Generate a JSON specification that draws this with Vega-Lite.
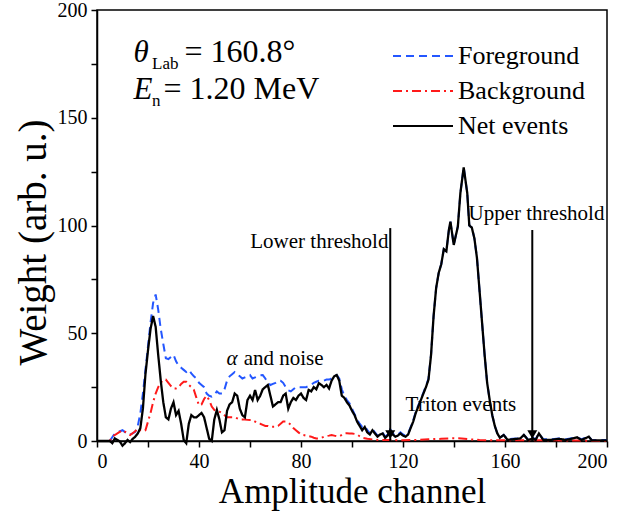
{
  "$schema": "https://vega.github.io/schema/vega-lite/v6.json",
  "width": 510,
  "height": 431,
  "autosize": {"type": "none"},
  "padding": {"left": 97, "top": 10, "right": 31, "bottom": 80},
  "background": "white",
  "config": {
    "font": "Liberation Serif",
    "view": {"stroke": "black", "strokeWidth": 1.5},
    "axis": {
      "domainColor": "black", "domainWidth": 1.5, "tickColor": "black", "tickWidth": 1.5,
      "tickSize": 6, "labelFont": "Liberation Serif", "labelFontSize": 20, "labelColor": "black",
      "titleFont": "Liberation Serif", "titleFontSize": 35, "titleFontWeight": "normal", "titleColor": "black", "grid": false
    },
    "legend": {
      "orient": "none", "legendX": 313, "legendY": 33, "symbolType": "M-3,0H3", "symbolSize": 400,
      "symbolStrokeWidth": 2, "labelFont": "Liberation Serif", "labelFontSize": 26, "labelColor": "black",
      "labelOffset": 22, "rowPadding": 9
    }
  },
  "datasets": {
    "fg": [
      {"ch":0,"w":0},{"ch":5,"w":0},{"ch":6.6,"w":2.8},{"ch":8,"w":4},{"ch":10,"w":5},{"ch":12.5,"w":2.8},{"ch":14,"w":3.5},{"ch":15,"w":4.3},{"ch":16,"w":7},{"ch":17,"w":12.8},{"ch":18,"w":22},{"ch":19,"w":33},{"ch":20,"w":44},{"ch":21,"w":55},{"ch":22,"w":64},{"ch":23,"w":68},{"ch":24,"w":61},{"ch":25,"w":52},{"ch":26,"w":45},{"ch":27,"w":38.4},{"ch":28,"w":38},{"ch":29,"w":39},{"ch":30,"w":40},{"ch":31,"w":37},{"ch":32,"w":35},{"ch":33,"w":34},{"ch":34,"w":33},{"ch":35,"w":32},{"ch":36,"w":33},{"ch":37,"w":31.4},{"ch":38,"w":30},{"ch":39,"w":29},{"ch":40,"w":27},{"ch":41,"w":26},{"ch":42,"w":25},{"ch":43,"w":22},{"ch":44,"w":21},{"ch":45,"w":20.6},{"ch":46,"w":21.5},{"ch":47,"w":23},{"ch":48,"w":22},{"ch":49,"w":22},{"ch":50,"w":24},{"ch":51,"w":28},{"ch":52,"w":30},{"ch":53,"w":31},{"ch":54,"w":32},{"ch":55,"w":31},{"ch":56,"w":30},{"ch":57,"w":29},{"ch":58,"w":29.5},{"ch":59,"w":30},{"ch":60,"w":30.6},{"ch":61,"w":29},{"ch":62,"w":29.5},{"ch":63,"w":30},{"ch":64,"w":30.5},{"ch":65,"w":30.6},{"ch":66,"w":29},{"ch":67,"w":27},{"ch":68,"w":26},{"ch":69,"w":26.5},{"ch":70,"w":27},{"ch":71,"w":28},{"ch":72,"w":28},{"ch":73,"w":27},{"ch":74,"w":25},{"ch":75,"w":23.5},{"ch":76,"w":23},{"ch":77,"w":24},{"ch":78,"w":25},{"ch":79,"w":25},{"ch":80,"w":25},{"ch":81,"w":25},{"ch":82,"w":25},{"ch":83,"w":25.5},{"ch":84,"w":26},{"ch":85,"w":27},{"ch":86,"w":27.5},{"ch":87,"w":28},{"ch":88,"w":28},{"ch":89,"w":28},{"ch":90,"w":28.5},{"ch":91,"w":28.5},{"ch":92,"w":29},{"ch":93,"w":30},{"ch":94,"w":30.6},{"ch":95,"w":29},{"ch":96,"w":24},{"ch":97,"w":21},{"ch":98,"w":19},{"ch":99,"w":17.5},{"ch":100,"w":15},{"ch":101,"w":12.5},{"ch":102,"w":10},{"ch":103,"w":8},{"ch":104,"w":6.6},{"ch":105,"w":7},{"ch":106,"w":5},{"ch":107,"w":3.5},{"ch":108,"w":5.5},{"ch":109,"w":4},{"ch":110,"w":2.5},{"ch":111,"w":3.5},{"ch":112,"w":4},{"ch":113,"w":2},{"ch":114,"w":3},{"ch":115,"w":5.5},{"ch":116,"w":3.5},{"ch":117,"w":2.5},{"ch":118,"w":3},{"ch":119,"w":4},{"ch":120,"w":3},{"ch":121,"w":2.5},{"ch":122,"w":3.5},{"ch":123,"w":6.5},{"ch":124,"w":9.5},{"ch":125,"w":13.5},{"ch":126,"w":16.5},{"ch":127,"w":19.5},{"ch":128,"w":22.5},{"ch":129,"w":25.5},{"ch":130,"w":29},{"ch":131,"w":40},{"ch":132,"w":58},{"ch":133,"w":71},{"ch":134,"w":78},{"ch":135,"w":82},{"ch":136,"w":89},{"ch":137,"w":88},{"ch":138,"w":98},{"ch":138.6,"w":101.8},{"ch":139.9,"w":91},{"ch":141.5,"w":99.5},{"ch":142.5,"w":115},{"ch":143.8,"w":127},{"ch":145.2,"w":115},{"ch":146,"w":100},{"ch":147,"w":99},{"ch":148,"w":94},{"ch":149,"w":85},{"ch":150,"w":70},{"ch":151,"w":55},{"ch":152,"w":40},{"ch":153,"w":27},{"ch":154,"w":19},{"ch":155,"w":12},{"ch":156,"w":7},{"ch":157,"w":3.5},{"ch":158,"w":1.5},{"ch":159.5,"w":2.8},{"ch":161,"w":0.8},{"ch":163,"w":1},{"ch":166,"w":1.2},{"ch":167.4,"w":2.8},{"ch":169,"w":0.8},{"ch":171,"w":1.5},{"ch":172,"w":0.8},{"ch":173.3,"w":3.5},{"ch":175,"w":0.8},{"ch":178,"w":0.8},{"ch":181,"w":1.2},{"ch":184,"w":0.8},{"ch":188.3,"w":1.7},{"ch":190,"w":0.8},{"ch":192.9,"w":2},{"ch":194,"w":0.5},{"ch":200,"w":0.5}
    ],
    "bg": [
      {"ch":0,"w":0},{"ch":5,"w":0},{"ch":6,"w":2},{"ch":8,"w":3.5},{"ch":10,"w":5},{"ch":12,"w":3.5},{"ch":13,"w":2.8},{"ch":15,"w":4.5},{"ch":16,"w":5.9},{"ch":17,"w":5},{"ch":18,"w":4.5},{"ch":19,"w":5},{"ch":20,"w":9},{"ch":21,"w":13},{"ch":22,"w":18},{"ch":23,"w":22},{"ch":24,"w":25},{"ch":25,"w":27},{"ch":26,"w":28.3},{"ch":27,"w":28.5},{"ch":28,"w":27},{"ch":29,"w":25.5},{"ch":30,"w":24.4},{"ch":31,"w":24.4},{"ch":32,"w":25},{"ch":33,"w":26.5},{"ch":34,"w":27.5},{"ch":35,"w":27.5},{"ch":36,"w":26},{"ch":37,"w":25},{"ch":38,"w":23.7},{"ch":39,"w":20},{"ch":40,"w":16.5},{"ch":41,"w":17},{"ch":42,"w":19.5},{"ch":43,"w":21},{"ch":44,"w":19},{"ch":45,"w":16},{"ch":46,"w":14.4},{"ch":47,"w":14},{"ch":48,"w":13.6},{"ch":49,"w":13},{"ch":50,"w":12},{"ch":51,"w":11},{"ch":52,"w":11},{"ch":53,"w":11},{"ch":54,"w":11},{"ch":55,"w":10.5},{"ch":56,"w":10},{"ch":57,"w":10},{"ch":58,"w":10},{"ch":59,"w":9.8},{"ch":60,"w":9.7},{"ch":61,"w":9.7},{"ch":62,"w":9},{"ch":63,"w":8.2},{"ch":64,"w":8},{"ch":65,"w":7.5},{"ch":66,"w":7},{"ch":67,"w":7},{"ch":68,"w":6.6},{"ch":69,"w":6.6},{"ch":70,"w":6.6},{"ch":71,"w":7},{"ch":72,"w":8},{"ch":73,"w":9},{"ch":74,"w":9},{"ch":75,"w":8.5},{"ch":76,"w":7.5},{"ch":77,"w":6},{"ch":78,"w":5},{"ch":79,"w":4},{"ch":80,"w":3},{"ch":81,"w":2.8},{"ch":82,"w":2.5},{"ch":83,"w":2.2},{"ch":84,"w":2},{"ch":85,"w":1.5},{"ch":86,"w":1.2},{"ch":87,"w":1.2},{"ch":88,"w":1.5},{"ch":89,"w":2},{"ch":90,"w":2.3},{"ch":91,"w":2.5},{"ch":92,"w":2.8},{"ch":93,"w":2.5},{"ch":94,"w":2.2},{"ch":95,"w":2.2},{"ch":96,"w":2.8},{"ch":97,"w":3.5},{"ch":98,"w":3.6},{"ch":99,"w":3.5},{"ch":100,"w":3.5},{"ch":101,"w":3.3},{"ch":102,"w":3},{"ch":103,"w":2.2},{"ch":104,"w":1.5},{"ch":106,"w":1},{"ch":110,"w":0.5},{"ch":115,"w":0.5},{"ch":120,"w":0.3},{"ch":125,"w":0.5},{"ch":130,"w":0.8},{"ch":135,"w":1},{"ch":140,"w":1.3},{"ch":143,"w":1.2},{"ch":146,"w":0.8},{"ch":150,"w":0.5},{"ch":155,"w":0.3},{"ch":160,"w":0.3},{"ch":170,"w":0.3},{"ch":180,"w":0.3},{"ch":190,"w":0.2},{"ch":200,"w":0}
    ],
    "net": [
      {"ch":0,"w":0},{"ch":5,"w":0},{"ch":6,"w":-1},{"ch":7,"w":1.2},{"ch":8,"w":0.5},{"ch":9,"w":-0.3},{"ch":10,"w":-2.2},{"ch":11,"w":-1},{"ch":12,"w":0.5},{"ch":13,"w":-0.5},{"ch":14,"w":1},{"ch":15,"w":2},{"ch":16,"w":3.5},{"ch":17,"w":6},{"ch":18,"w":15},{"ch":19,"w":31},{"ch":20,"w":42},{"ch":21,"w":52},{"ch":22,"w":58},{"ch":23,"w":53},{"ch":24,"w":40},{"ch":25,"w":28},{"ch":26,"w":18},{"ch":27,"w":11},{"ch":28,"w":10},{"ch":29,"w":15},{"ch":30,"w":18},{"ch":31,"w":12},{"ch":32,"w":14},{"ch":33,"w":8},{"ch":34,"w":0.5},{"ch":35,"w":-1},{"ch":36,"w":8},{"ch":37,"w":12},{"ch":38,"w":11},{"ch":39,"w":11},{"ch":40,"w":12},{"ch":41,"w":13},{"ch":42,"w":11},{"ch":43,"w":6},{"ch":44,"w":1},{"ch":45,"w":0},{"ch":46,"w":10},{"ch":47,"w":14.4},{"ch":48,"w":10},{"ch":49,"w":4},{"ch":50,"w":5},{"ch":51,"w":14},{"ch":52,"w":17},{"ch":53,"w":18},{"ch":54,"w":22},{"ch":55,"w":21},{"ch":56,"w":15},{"ch":57,"w":12},{"ch":58,"w":11},{"ch":59,"w":19},{"ch":60,"w":21},{"ch":61,"w":19},{"ch":62,"w":23.7},{"ch":63,"w":19},{"ch":64,"w":21},{"ch":65,"w":24},{"ch":66,"w":25},{"ch":67,"w":26},{"ch":68,"w":21},{"ch":69,"w":16},{"ch":70,"w":17},{"ch":71,"w":18},{"ch":72,"w":18},{"ch":73,"w":21},{"ch":74,"w":22},{"ch":75,"w":15},{"ch":76,"w":18},{"ch":77,"w":20},{"ch":78,"w":19},{"ch":79,"w":21},{"ch":80,"w":22},{"ch":81,"w":20},{"ch":82,"w":19},{"ch":83,"w":23.7},{"ch":84,"w":23},{"ch":85,"w":25},{"ch":86,"w":24},{"ch":87,"w":26.8},{"ch":88,"w":26},{"ch":89,"w":25},{"ch":90,"w":26},{"ch":91,"w":24.4},{"ch":92,"w":28},{"ch":93,"w":30},{"ch":94,"w":30.6},{"ch":95,"w":28},{"ch":96,"w":21},{"ch":97,"w":20},{"ch":98,"w":18},{"ch":99,"w":16.5},{"ch":100,"w":14},{"ch":101,"w":12},{"ch":102,"w":9},{"ch":103,"w":7},{"ch":104,"w":5},{"ch":105,"w":6.5},{"ch":106,"w":4},{"ch":107,"w":3},{"ch":108,"w":5},{"ch":109,"w":3.5},{"ch":110,"w":2},{"ch":111,"w":3},{"ch":112,"w":3.5},{"ch":113,"w":1.5},{"ch":114,"w":2.5},{"ch":115,"w":5},{"ch":116,"w":3},{"ch":117,"w":2},{"ch":118,"w":2.5},{"ch":119,"w":3.5},{"ch":120,"w":2.5},{"ch":121,"w":2},{"ch":122,"w":3},{"ch":123,"w":6},{"ch":124,"w":9},{"ch":125,"w":13},{"ch":126,"w":16},{"ch":127,"w":19},{"ch":128,"w":22},{"ch":129,"w":25},{"ch":130,"w":28.5},{"ch":131,"w":40},{"ch":132,"w":58},{"ch":133,"w":71},{"ch":134,"w":78},{"ch":135,"w":82},{"ch":136,"w":89},{"ch":137,"w":88},{"ch":138,"w":98},{"ch":138.6,"w":101.8},{"ch":139.9,"w":91},{"ch":141.5,"w":99.5},{"ch":142.5,"w":115},{"ch":143.8,"w":127},{"ch":145.2,"w":115},{"ch":146,"w":100},{"ch":147,"w":99},{"ch":148,"w":94},{"ch":149,"w":85},{"ch":150,"w":70},{"ch":151,"w":55},{"ch":152,"w":40},{"ch":153,"w":27},{"ch":154,"w":19},{"ch":155,"w":12},{"ch":156,"w":7},{"ch":157,"w":3.5},{"ch":158,"w":1.5},{"ch":159.5,"w":2.8},{"ch":161,"w":0.5},{"ch":163,"w":0.8},{"ch":166,"w":1.2},{"ch":167.4,"w":2.8},{"ch":169,"w":0.5},{"ch":171,"w":1.2},{"ch":172,"w":0.5},{"ch":173.3,"w":3.5},{"ch":175,"w":0.5},{"ch":178,"w":0.5},{"ch":181,"w":1},{"ch":184,"w":0.5},{"ch":188.3,"w":1.7},{"ch":190,"w":0.5},{"ch":192.9,"w":2},{"ch":194,"w":0.3},{"ch":200,"w":0.3}
    ],
    "arrows": [{"ch":115,"top":98.8,"bot":0,"tip":3},{"ch":170.7,"top":97.9,"bot":0,"tip":3}]
  },
  "layer": [
    {
      "data": {"name": "fg"},
      "mark": {"type": "line", "strokeWidth": 2},
      "encoding": {
        "x": {"field": "ch", "type": "quantitative", "scale": {"domain": [0, 200], "nice": false},
          "axis": {"title": "Amplitude channel", "values": [0,20,40,60,80,100,120,140,160,180,200],
            "labelExpr": "datum.value % 40 === 0 ? datum.label : ''", "labelPadding": 4, "titlePadding": 3}},
        "y": {"field": "w", "type": "quantitative", "scale": {"domain": [0, 200], "nice": false},
          "axis": {"title": "Weight (arb. u.)", "values": [0,25,50,75,100,125,150,175,200],
            "labelExpr": "datum.value % 50 === 0 ? datum.label : ''", "labelPadding": 4, "titlePadding": 4, "titleFontSize": 39, "titleY": 232}},
        "color": {"datum": "Foreground", "type": "nominal",
          "scale": {"domain": ["Foreground", "Background", "Net events"], "range": ["#2457ff", "#ff1a1a", "#000000"]},
          "legend": {"title": null}},
        "strokeDash": {"datum": "Foreground", "type": "nominal",
          "scale": {"domain": ["Foreground", "Background", "Net events"], "range": [[8, 5], [9, 4, 2, 4], [1, 0]]},
          "legend": {"title": null}}
      }
    },
    {
      "data": {"name": "bg"},
      "mark": {"type": "line", "strokeWidth": 2},
      "encoding": {
        "x": {"field": "ch", "type": "quantitative"},
        "y": {"field": "w", "type": "quantitative"},
        "color": {"datum": "Background", "type": "nominal"},
        "strokeDash": {"datum": "Background", "type": "nominal"}
      }
    },
    {
      "data": {"name": "net"},
      "mark": {"type": "line", "strokeWidth": 2.3},
      "encoding": {
        "x": {"field": "ch", "type": "quantitative"},
        "y": {"field": "w", "type": "quantitative"},
        "color": {"datum": "Net events", "type": "nominal"},
        "strokeDash": {"datum": "Net events", "type": "nominal"}
      }
    },
    {
      "data": {"name": "arrows"},
      "mark": {"type": "rule", "color": "black", "strokeWidth": 2},
      "encoding": {
        "x": {"field": "ch", "type": "quantitative"},
        "y": {"field": "top", "type": "quantitative"},
        "y2": {"field": "bot"}
      }
    },
    {
      "data": {"name": "arrows"},
      "mark": {"type": "point", "shape": "triangle-down", "filled": true, "color": "black", "size": 100, "opacity": 1},
      "encoding": {
        "x": {"field": "ch", "type": "quantitative"},
        "y": {"field": "tip", "type": "quantitative"}
      }
    },
    {
      "data": {"values": [{"ch": 114.3, "w": 89.6, "label": "Lower threshold"}]},
      "mark": {"type": "text", "align": "right", "baseline": "alphabetic", "fontSize": 21, "font": "Liberation Serif", "color": "black"},
      "encoding": {"x": {"field": "ch", "type": "quantitative"}, "y": {"field": "w", "type": "quantitative"}, "text": {"field": "label"}}
    },
    {
      "data": {"values": [{"ch": 145.7, "w": 102.5, "label": "Upper threshold"}]},
      "mark": {"type": "text", "align": "left", "baseline": "alphabetic", "fontSize": 21, "font": "Liberation Serif", "color": "black"},
      "encoding": {"x": {"field": "ch", "type": "quantitative"}, "y": {"field": "w", "type": "quantitative"}, "text": {"field": "label"}}
    },
    {
      "data": {"values": [{"ch": 121, "w": 14, "label": "Triton events"}]},
      "mark": {"type": "text", "align": "left", "baseline": "alphabetic", "fontSize": 21, "font": "Liberation Serif", "color": "black"},
      "encoding": {"x": {"field": "ch", "type": "quantitative"}, "y": {"field": "w", "type": "quantitative"}, "text": {"field": "label"}}
    },
    {
      "data": {"values": [{"ch": 50.8, "w": 35.3, "label": "α"}]},
      "mark": {"type": "text", "align": "left", "baseline": "alphabetic", "fontSize": 21, "font": "Liberation Serif", "fontStyle": "italic", "color": "black"},
      "encoding": {"x": {"field": "ch", "type": "quantitative"}, "y": {"field": "w", "type": "quantitative"}, "text": {"field": "label"}}
    },
    {
      "data": {"values": [{"ch": 57.5, "w": 35.3, "label": "and noise"}]},
      "mark": {"type": "text", "align": "left", "baseline": "alphabetic", "fontSize": 21, "font": "Liberation Serif", "color": "black"},
      "encoding": {"x": {"field": "ch", "type": "quantitative"}, "y": {"field": "w", "type": "quantitative"}, "text": {"field": "label"}}
    },
    {
      "data": {"values": [{"ch": 14.3, "w": 175.9, "label": "θ"}, {"ch": 14.3, "w": 158.7, "label": "E"}]},
      "mark": {"type": "text", "align": "left", "baseline": "alphabetic", "fontSize": 31, "font": "Liberation Serif", "fontStyle": "italic", "color": "black"},
      "encoding": {"x": {"field": "ch", "type": "quantitative"}, "y": {"field": "w", "type": "quantitative"}, "text": {"field": "label"}}
    },
    {
      "data": {"values": [{"ch": 21.6, "w": 172.6, "label": "Lab"}, {"ch": 21.6, "w": 155.3, "label": "n"}]},
      "mark": {"type": "text", "align": "left", "baseline": "alphabetic", "fontSize": 17, "font": "Liberation Serif", "color": "black"},
      "encoding": {"x": {"field": "ch", "type": "quantitative"}, "y": {"field": "w", "type": "quantitative"}, "text": {"field": "label"}}
    },
    {
      "data": {"values": [{"ch": 34.3, "w": 175.9, "label": "= 160.8°"}, {"ch": 26.1, "w": 158.7, "label": "= 1.20 MeV"}]},
      "mark": {"type": "text", "align": "left", "baseline": "alphabetic", "fontSize": 32, "font": "Liberation Serif", "color": "black"},
      "encoding": {"x": {"field": "ch", "type": "quantitative"}, "y": {"field": "w", "type": "quantitative"}, "text": {"field": "label"}}
    }
  ]
}
